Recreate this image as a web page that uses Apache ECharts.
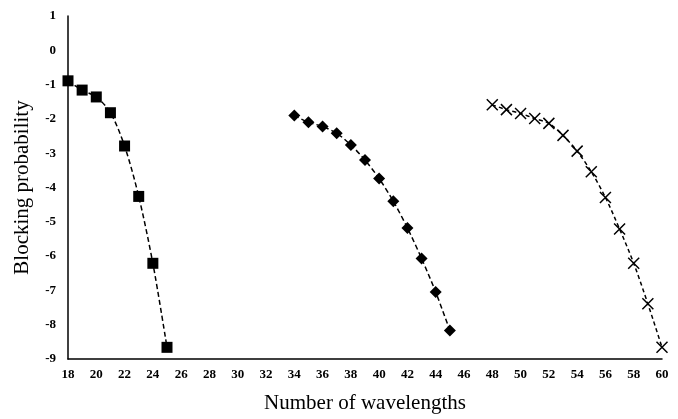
<!DOCTYPE html>
<html>
<head>
<meta charset="utf-8">
<script src="https://cdn.jsdelivr.net/npm/echarts@6/dist/echarts.min.js"></script>
<style>html,body{margin:0;padding:0;background:#fff}#c{width:678px;height:419px}</style>
</head>
<body>
<div id="c"></div>
<script>
const squareX = [18, 19, 20, 21, 22, 23, 24, 25];
const squareY = [-0.89, -1.16, -1.36, -1.82, -2.79, -4.26, -6.21, -8.66];
const diamondX = [34, 35, 36, 37, 38, 39, 40, 41, 42, 43, 44, 45];
const diamondY = [-1.90, -2.10, -2.22, -2.42, -2.76, -3.20, -3.74, -4.40, -5.18, -6.07, -7.05, -8.17];
const crossX = [48, 49, 50, 51, 52, 53, 54, 55, 56, 57, 58, 59, 60];
const crossY = [-1.59, -1.73, -1.84, -1.99, -2.13, -2.48, -2.94, -3.54, -4.29, -5.21, -6.21, -7.39, -8.66];

const pairs = (xs, ys) => xs.map((x, i) => [x, ys[i]]);
const font = '"Liberation Serif", "DejaVu Serif", serif';

const chart = echarts.init(document.getElementById('c'), null, {renderer: 'canvas'});
chart.setOption({
  animation: false,
  backgroundColor: '#fff',
  grid: {left: 68, right: 16, top: 16, bottom: 56, containLabel: false},
  xAxis: {
    type: 'value', min: 18, max: 60, interval: 2,
    name: 'Number of wavelengths', nameLocation: 'middle', nameGap: 34,
    nameTextStyle: {fontFamily: font, fontSize: 21, color: '#000'},
    axisLine: {show: true, onZero: false, lineStyle: {color: '#000', width: 1.5}},
    axisTick: {show: false},
    splitLine: {show: false},
    axisLabel: {fontFamily: font, fontSize: 13, fontWeight: 'bold', color: '#000', margin: 9}
  },
  yAxis: {
    type: 'value', min: -9, max: 1, interval: 1,
    name: 'Blocking probability', nameLocation: 'middle', nameGap: 35, nameRotate: 90,
    nameTextStyle: {fontFamily: font, fontSize: 21, color: '#000'},
    axisLine: {show: true, onZero: false, lineStyle: {color: '#000', width: 1.5}},
    axisTick: {show: false},
    splitLine: {show: false},
    axisLabel: {fontFamily: font, fontSize: 13, fontWeight: 'bold', color: '#000', margin: 12}
  },
  series: [
    {
      type: 'line', data: pairs(squareX, squareY), smooth: 0.3,
      symbol: 'rect', symbolSize: 11,
      itemStyle: {color: '#000'},
      lineStyle: {color: '#000', width: 1.5, type: [5, 3]}
    },
    {
      type: 'line', data: pairs(diamondX, diamondY), smooth: 0.3,
      symbol: 'diamond', symbolSize: [12, 12],
      itemStyle: {color: '#000'},
      lineStyle: {color: '#000', width: 1.5, type: [5, 3]}
    },
    {
      type: 'line', data: pairs(crossX, crossY), smooth: 0.3,
      symbol: 'path://M0,0L10,10M10,0L0,10', symbolSize: 11,
      itemStyle: {color: 'rgba(0,0,0,0)', borderColor: '#000', borderWidth: 1.5},
      lineStyle: {color: '#000', width: 1.5, type: [4, 3]}
    }
  ]
});
</script>
</body>
</html>
